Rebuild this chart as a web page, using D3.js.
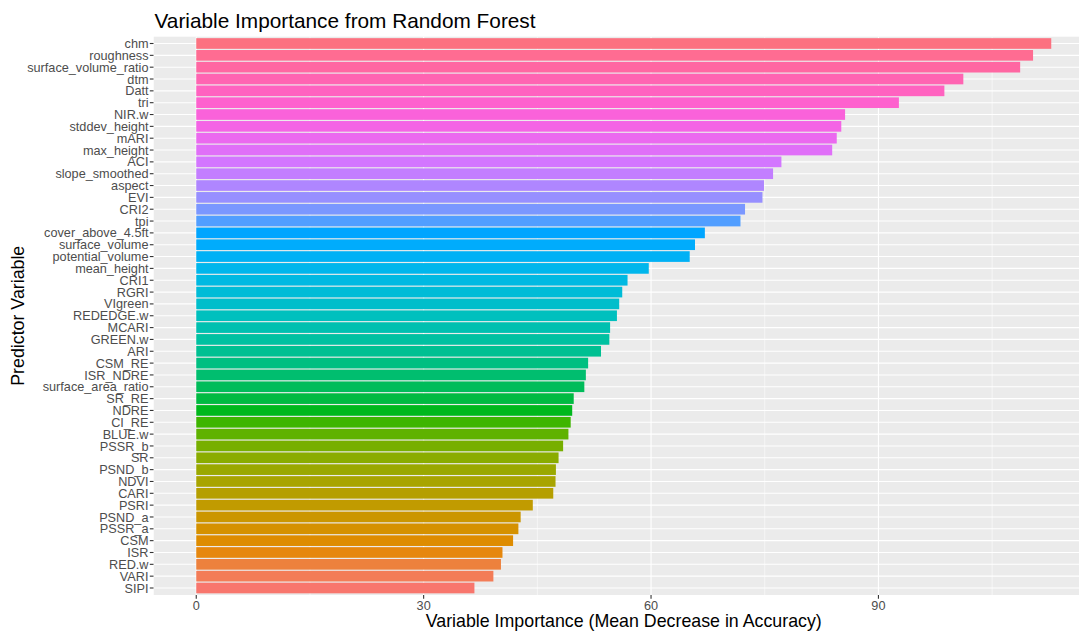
<!DOCTYPE html>
<html><head><meta charset="utf-8">
<script src="https://cdn.jsdelivr.net/npm/d3@7"></script>
<style>
html,body{margin:0;padding:0;background:#fff;}
svg{display:block;font-family:"Liberation Sans",Arial,sans-serif;}
</style></head>
<body><svg id="chart" width="1079" height="631"></svg>
<script>
// Categories, top to bottom
const categories = ["chm","roughness","surface_volume_ratio","dtm","Datt","tri","NIR.w","stddev_height","mARI","max_height","ACI","slope_smoothed","aspect","EVI","CRI2","tpi","cover_above_4.5ft","surface_volume","potential_volume","mean_height","CRI1","RGRI","VIgreen","REDEDGE.w","MCARI","GREEN.w","ARI","CSM_RE","ISR_NDRE","surface_area_ratio","SR_RE","NDRE","CI_RE","BLUE.w","PSSR_b","SR","PSND_b","NDVI","CARI","PSRI","PSND_a","PSSR_a","CSM","ISR","RED.w","VARI","SIPI"];
const importance = [112.8,110.4,108.7,101.2,98.7,92.7,85.6,85.1,84.5,83.9,77.2,76.1,74.9,74.7,72.4,71.8,67.1,65.8,65.1,59.7,56.9,56.2,55.8,55.5,54.6,54.5,53.4,51.7,51.4,51.2,49.8,49.6,49.4,49.1,48.4,47.8,47.45,47.4,47.1,44.4,42.8,42.5,41.8,40.4,40.2,39.2,36.7];
const xTicks = [0,30,60,90];
const xMinor = [15,45,75,105];
const titleText = "Variable Importance from Random Forest";
const xTitle = "Variable Importance (Mean Decrease in Accuracy)";
const yTitle = "Predictor Variable";

// R-style hcl (polarLUV) -> hex
function hclLuv(h, c, l) {
  const Xn = 95.047, Yn = 100, Zn = 108.883;
  const hr = h * Math.PI / 180;
  const U = c * Math.cos(hr), V = c * Math.sin(hr);
  const Y = Yn * (l > 7.999592 ? Math.pow((l + 16) / 116, 3) : l / 903.3);
  const den = Xn + 15 * Yn + 3 * Zn;
  const un = 4 * Xn / den, vn = 9 * Yn / den;
  const u = U / (13 * l) + un, v = V / (13 * l) + vn;
  const X = 9 * Y * u / (4 * v);
  const Z = -X / 3 - 5 * Y + 3 * Y / v;
  const g = x => { x = x > 0.00304 ? 1.055 * Math.pow(x, 1 / 2.4) - 0.055 : 12.92 * x; return Math.round(255 * Math.max(0, Math.min(1, x))); };
  const r = g((3.240479 * X - 1.537150 * Y - 0.498535 * Z) / Yn);
  const gg = g((-0.969256 * X + 1.875992 * Y + 0.041556 * Z) / Yn);
  const b = g((0.055648 * X - 0.204043 * Y + 1.057311 * Z) / Yn);
  return d3.rgb(r, gg, b).formatHex();
}
const n = categories.length;
// factor levels ascending in importance: bottom (SIPI) is the first level
const colorOf = {};
categories.slice().reverse().forEach((c, i) => { colorOf[c] = hclLuv((15 + i * 360 / n) % 360, 100, 65); });

const svg = d3.select("#chart");
const panelL = 153.5, panelR = 1094, panelT = 36.4, panelB = 595.1;
const M = d3.max(importance);
const x = d3.scaleLinear().domain([-0.05 * M, 1.05 * M]).range([panelL, panelR]);
// ggplot-like discrete axis: 0.6 expansion on each side
const step = (panelB - panelT) / (n - 1 + 1.2);
const y = d3.scalePoint().domain(categories).range([panelT + 0.6 * step, panelB - 0.6 * step]);
const yc = c => y(c);
const barH = 0.9 * step;

svg.append("defs").append("clipPath").attr("id", "pc").append("rect")
  .attr("x", panelL).attr("y", panelT).attr("width", panelR - panelL).attr("height", panelB - panelT);
const g = svg.append("g").attr("clip-path", "url(#pc)");
g.append("rect").attr("x", panelL).attr("y", panelT).attr("width", panelR - panelL).attr("height", panelB - panelT).attr("fill", "#EBEBEB");
g.selectAll("line.minor").data(xMinor).enter().append("line")
  .attr("x1", d => x(d)).attr("x2", d => x(d)).attr("y1", panelT).attr("y2", panelB)
  .attr("stroke", "#fff").attr("stroke-width", 0.55);
g.selectAll("line.majx").data(xTicks).enter().append("line")
  .attr("x1", d => x(d)).attr("x2", d => x(d)).attr("y1", panelT).attr("y2", panelB)
  .attr("stroke", "#fff").attr("stroke-width", 1.1);
g.selectAll("line.majy").data(categories).enter().append("line")
  .attr("x1", panelL).attr("x2", panelR).attr("y1", d => yc(d)).attr("y2", d => yc(d))
  .attr("stroke", "#fff").attr("stroke-width", 1.1);
g.selectAll("rect.bar").data(categories).enter().append("rect")
  .attr("x", x(0)).attr("y", d => yc(d) - barH / 2)
  .attr("width", (d, i) => x(importance[i]) - x(0)).attr("height", barH)
  .attr("fill", d => colorOf[d]);

// y axis labels and ticks
const ya = svg.append("g");
categories.forEach(c => {
  ya.append("line").attr("x1", panelL - 3.7).attr("x2", panelL).attr("y1", yc(c)).attr("y2", yc(c)).attr("stroke", "#333").attr("stroke-width", 1.1);
  ya.append("text").attr("x", panelL - 5).attr("y", yc(c)).attr("dy", "0.36em").attr("text-anchor", "end")
    .attr("font-size", 12.7).attr("fill", "#4D4D4D").text(c);
});
// x axis
const xa = svg.append("g");
xTicks.forEach(t => {
  xa.append("line").attr("x1", x(t)).attr("x2", x(t)).attr("y1", panelB).attr("y2", panelB + 3.7).attr("stroke", "#333").attr("stroke-width", 1.1);
  xa.append("text").attr("x", x(t)).attr("y", panelB + 15.3).attr("text-anchor", "middle")
    .attr("font-size", 12.7).attr("fill", "#4D4D4D").text(t);
});
svg.append("text").attr("x", (panelL + panelR) / 2).attr("y", 627).attr("text-anchor", "middle")
  .attr("font-size", 17.8).attr("fill", "#000").text(xTitle);
svg.append("text").attr("transform", `translate(24,${(panelT + panelB) / 2}) rotate(-90)`).attr("text-anchor", "middle")
  .attr("font-size", 17.8).attr("fill", "#000").text(yTitle);
svg.append("text").attr("x", panelL + 1).attr("y", 28).attr("font-size", 20.8).attr("fill", "#000").text(titleText);
</script></body></html>
